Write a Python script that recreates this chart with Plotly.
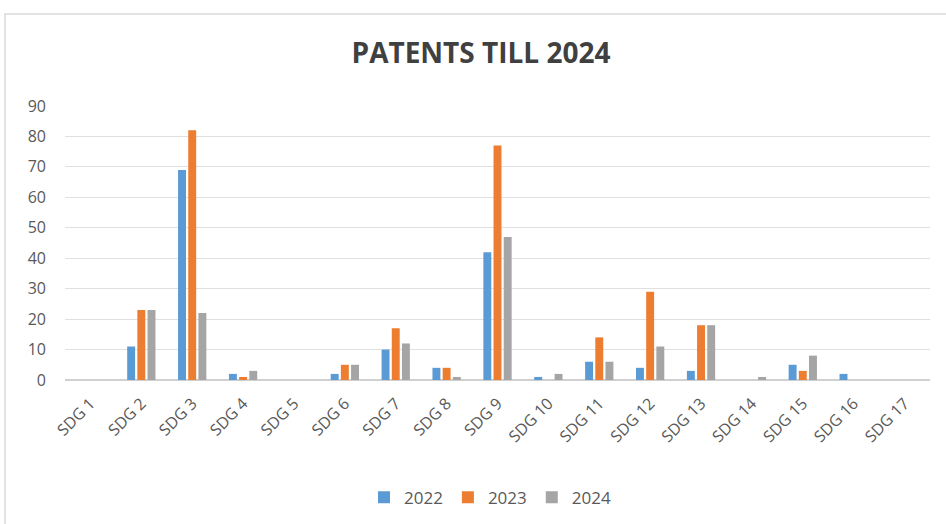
import plotly.graph_objects as go

categories = [f"SDG {i}" for i in range(1, 18)]
y2022 = [0, 11, 69, 2, 0, 2, 10, 4, 42, 1, 6, 4, 3, 0, 5, 2, 0]
y2023 = [0, 23, 82, 1, 0, 5, 17, 4, 77, 0, 14, 29, 18, 0, 3, 0, 0]
y2024 = [0, 23, 22, 3, 0, 5, 12, 1, 47, 2, 6, 11, 18, 1, 8, 0, 0]
series_names = ["2022", "2023", "2024"]
colors = ["#5B9BD5", "#ED7D31", "#A5A5A5"]

fig = go.Figure()
for name, vals, c in zip(series_names, [y2022, y2023, y2024], colors):
    fig.add_trace(go.Bar(x=categories, y=vals, name=name, marker=dict(color=c, line=dict(width=0))))

L, R = 65, 16
PW = 946 - L - R
fig.update_layout(
    width=946, height=524,
    paper_bgcolor="white", plot_bgcolor="white",
    margin=dict(l=L, r=R, t=106, b=144, autoexpand=False),
    title=dict(text="<b>PATENTS TILL 2024</b>", x=481 / 946, xanchor="center", y=1 - 53 / 524, yanchor="middle",
               font=dict(family="Open Sans, sans-serif", size=28, color="#404040")),
    font=dict(family="Open Sans, sans-serif", color="#595959", size=13),
    barmode="group", bargap=0.40, bargroupgap=0.22,
    legend=dict(orientation="h", x=(490 - L) / PW, xanchor="center", y=-0.43, yanchor="middle",
                font=dict(size=17, color="#595959"), itemwidth=30, tracegroupgap=0),
    xaxis=dict(tickangle=-45, showgrid=False, showline=False, ticks="", automargin=False,
               tickfont=dict(size=16, color="#595959"), ticklabelstandoff=10),
    yaxis=dict(range=[0, 90], dtick=10, showgrid=True, gridcolor="#E0E0E0", gridwidth=1, zeroline=True,
               zerolinecolor="#D0D0D0", ticks="", automargin=False,
               tickfont=dict(size=16, color="#595959"), ticklabelstandoff=18),
)
fig.add_shape(type="rect", xref="paper", yref="paper", x0=(5 - L) / PW, x1=(960 - L) / PW,
              y0=(380 - 540) / 274, y1=(380 - 14) / 274, line=dict(color="#D9D9D9", width=1.5), layer="below")
fig.write_html("out.html", config={"displayModeBar": False},
               post_script="document.body.style.margin='0';")
